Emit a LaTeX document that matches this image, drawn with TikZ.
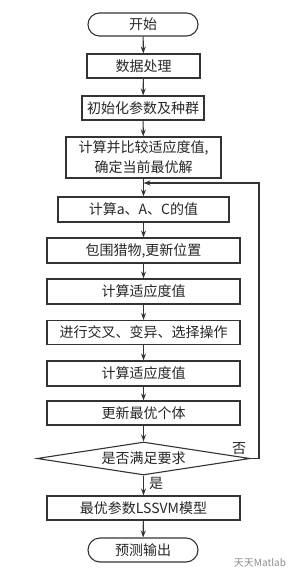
\documentclass[tikz,border=0pt]{standalone}
\usepackage{fontspec}
\setmainfont{Noto Sans CJK SC}
\usetikzlibrary{shapes.geometric,shapes.misc,arrows.meta}
\begin{document}
\begin{tikzpicture}[x=1pt,y=-1pt,
  every node/.style={font=\fontsize{14}{20}\selectfont, text=black!85, inner sep=0pt},
  box/.style={draw=black!80, line width=1.1pt, rectangle, minimum height=24pt, align=center},
  term/.style={draw=black!80, line width=1.1pt, rounded rectangle, minimum width=110pt, minimum height=23pt},
  dec/.style={draw=black!80, line width=1.1pt, diamond, aspect=6.45, minimum width=213pt, minimum height=33pt},
  flow/.style={draw=black!80, line width=1.1pt, -{Stealth[length=7pt,width=5pt]}}]
\useasboundingbox (0,0) rectangle (295,578);
\node[term] (start) at (143,24.5) {开始};
\node[box, minimum width=113pt] (b1) at (143.5,66) {数据处理};
\node[box, minimum width=122pt] (b2) at (143,108) {初始化参数及种群};
\node[box, minimum width=155pt, minimum height=41pt] (b3) at (143.5,157.5) {计算并比较适应度值,\\确定当前最优解};
\node[box, minimum width=171pt, minimum height=25pt] (b4) at (143.5,209.5) {计算a、A、C的值};
\node[box, minimum width=193pt, minimum height=25pt] (b5) at (143.5,250.5) {包围猎物,更新位置};
\node[box, minimum width=193pt, minimum height=25pt] (b6) at (143.5,291.5) {计算适应度值};
\node[box, minimum width=193pt, minimum height=24pt] (b7) at (143.5,332.5) {进行交叉、变异、选择操作};
\node[box, minimum width=193pt, minimum height=25pt] (b8) at (143.5,373.5) {计算适应度值};
\node[box, minimum width=193pt, minimum height=24pt] (b9) at (143.5,413) {更新最优个体};
\node[dec] (d) at (143.5,458.5) {是否满足要求};
\node[box, minimum width=193pt, minimum height=24pt] (b10) at (143.5,508) {最优参数LSSVM模型};
\node[term, minimum height=24pt] (end) at (143,550) {预测输出};
\coordinate (loopR) at (259,458.5);
\coordinate (loopT) at (259,183);
\coordinate (loopJ) at (143.5,183);
\draw[flow] (start) -- (b1);
\draw[flow] (b1) -- (b2);
\draw[flow] (b2) -- (b3);
\draw[flow] (b3) -- (b4);
\draw[flow] (b4) -- (b5);
\draw[flow] (b5) -- (b6);
\draw[flow] (b6) -- (b7);
\draw[flow] (b7) -- (b8);
\draw[flow] (b8) -- (b9);
\draw[flow] (b9) -- (d);
\draw[flow] (d) -- node[right=5pt, pos=0.4] (yes) {是} (b10);
\draw[flow] (b10) -- (end);
\draw[flow] (d.east) -- (loopR) -- (loopT) -- (loopJ);
\node (no) at (239,449) {否};
\node[font=\fontsize{10}{12}\selectfont, text=black!45] (wm) at (260,563) {天天Matlab};
\end{tikzpicture}
\end{document}
